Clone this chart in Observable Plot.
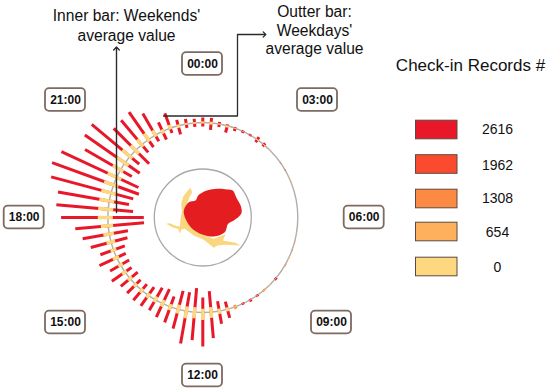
<!DOCTYPE html>
<html>
<head>
<meta charset="utf-8">
<script src="https://cdn.jsdelivr.net/npm/d3@7"></script>
<script src="https://cdn.jsdelivr.net/npm/@observablehq/plot@0.6"></script>
<style>
html,body{margin:0;padding:0;background:#fff}
svg{display:block}
</style>
</head>
<body>
<div id="chart"></div>
<script>
// 72 bins (20 minutes each), clockwise from 00:00. Values in check-in records.
const weekdays = [200,200,80,60,40,40,40,120,80,20,0,12,24,24,12,0,0,0,0,12,12,24,32,32,40,20,60,28,40,48,80,48,80,360,520,1040,1360,1120,1320,800,664,600,480,520,520,480,480,640,480,760,560,840,1080,1320,1868,2080,2080,2480,2616,2440,1640,1960,2000,1240,1280,1344,1000,400,640,240,200,160];
const weekends = [160,280,120,280,120,60,40,120,80,0,0,0,0,0,0,0,0,0,0,0,0,0,0,0,0,0,40,0,40,40,40,40,80,320,400,840,600,960,760,760,440,640,560,400,320,280,400,320,400,400,480,680,760,1440,1440,1000,800,920,1080,960,520,720,480,760,400,360,280,360,200,360,160,160];
const binLevels = [2616,2616,2616,2616,2616,2616,2616,2616,2616,654,654,1962,1962,654,654,654,654,654,654,1308,654,1308,1308,654,1308,1308,2616,654,1308,2616,2616,2616,1308,2616,2616,2616,2616,2616,2616,2616,2616,2616,2616,2616,2616,2616,2616,2616,2616,2616,2616,2616,2616,2616,2616,2616,2616,2616,2616,2616,2616,2616,2616,2616,2616,2616,2616,2616,2616,2616,2616,2616];

const legendLevels = [2616,1962,1308,654,0];
const legendColors = ["#e8182a","#fc4a2e","#fd8a42","#ffb05c","#fdd87e"];
const timeLabels = ["00:00","03:00","06:00","09:00","12:00","15:00","18:00","21:00"];

// Layout (page pixels)
const cx = 202.3, cy = 217, ringR = 95, innerR = 48.5;
const timeBoxX = [202,317,363.7,331,202,65,23.7,65];
const timeBoxY = [63.5,99.5,217,322,375,322,217,99.5];
const legendBoxY = [129.5,164,198.5,231.5,266.5];
const legendTextY = [129,165,198,232,267];

// Centre shapes
const redShapeX = [188.3,195,197.7,204.3,216.7,226.7,232.3,235.7,240.7,240.7,233.3,227.7,224.3,213.3,201.7,191.7,185,183.3];
const redShapeY = [201.7,200,195,190.7,188.3,189,190,196.7,206.7,213.3,220,223.3,231.7,236,234,228.3,218.3,210];
const sandShapeX = [190,191.7,188.7,186.7,183.3,185,191.7,201.7,213.3,221.7,225,222.3,235,240,225,216.7,213.3,203.3,193.3,184.3,180.7,180,177.3,171.7,165.7,169,176,179.5,180,181.5,180.7,182.7,186.7];
const sandShapeY = [187.3,191.7,197.3,202.7,210,218.3,228.3,234,238.3,235,234,240,242.3,245,244.3,245,247.3,239.3,235,228.3,229,233.3,228.3,226.7,223.3,222.7,225.5,226,218,211,203.3,196,190.7];

const barPx = d3.scaleLinear([0,2616],[0,65.4]);
const bins = d3.range(72).map(i => ({
  a: i * 5 * Math.PI / 180,
  out: barPx(weekdays[i]),
  inn: barPx(weekends[i]),
  level: binLevels[i]
}));
const px = (r, a) => cx + r * Math.sin(a);
const py = (r, a) => cy - r * Math.cos(a);
const coreOut = d => Math.min(10, d.out * 0.22);
const coreIn = d => Math.min(5, d.inn * 0.25);

const timeBoxes = timeLabels.map((t,i)=>({t,x:timeBoxX[i],y:timeBoxY[i]}));
const legend = legendLevels.map((v,i)=>({v,y:legendBoxY[i],ty:legendTextY[i]}));
const redShape = redShapeX.map((x,i)=>({x,y:redShapeY[i]}));
const sandShape = sandShapeX.map((x,i)=>({x,y:sandShapeY[i]}));

const dark = "#2b2b2b";
const chart = Plot.plot({
  width:550, height:392, margin:0,
  x:{domain:[0,550],range:[0,550],axis:null},
  y:{domain:[0,392],range:[0,392],axis:null},
  color:{type:"ordinal",domain:legendLevels,range:legendColors},
  style:{fontFamily:"'Liberation Sans',Helvetica,Arial,sans-serif",background:"#fff",color:"#111"},
  marks:[
    // guide circles
    Plot.dot([{}],{x:()=>cx,y:()=>cy,r:ringR,stroke:"#b0aeae",strokeWidth:1.4,fill:"none"}),
    Plot.dot([{}],{x:()=>cx,y:()=>cy,r:innerR,stroke:"#aaa8a8",strokeWidth:1.3,fill:"none"}),
    // centre shapes
    Plot.line(sandShape,{x:"x",y:"y",fill:"#f9d77f",stroke:"none",curve:"linear-closed"}),
    Plot.line(redShape,{x:"x",y:"y",fill:"#e41d20",stroke:"none",curve:"catmull-rom-closed"}),
    // radial bars
    Plot.link(bins,{
      x1:d=>px(ringR-d.inn,d.a), y1:d=>py(ringR-d.inn,d.a),
      x2:d=>px(ringR+d.out,d.a), y2:d=>py(ringR+d.out,d.a),
      stroke:"level", strokeWidth:3
    }),
    // pale core of each bar
    Plot.link(bins,{
      x1:d=>px(ringR-coreIn(d),d.a), y1:d=>py(ringR-coreIn(d),d.a),
      x2:d=>px(ringR+coreOut(d),d.a), y2:d=>py(ringR+coreOut(d),d.a),
      stroke:()=>0, strokeWidth:3.5
    }),
    // annotation arrows
    Plot.line([{x:116,y:212},{x:116,y:48}],{x:"x",y:"y",stroke:dark,strokeWidth:1.4,markerEnd:"arrow"}),
    Plot.line([{x:163,y:115.5},{x:237,y:115.5},{x:237,y:34},{x:264,y:34}],{x:"x",y:"y",stroke:dark,strokeWidth:1.3,markerEnd:"arrow"}),
    Plot.text(["Inner bar: Weekends'","average value"],{x:()=>126,y:(d,i)=>[15,35][i],text:d=>d,fontSize:15.6,fill:"#111"}),
    Plot.text(["Outter bar:","Weekdays'","average value"],{x:()=>314,y:(d,i)=>[11,30,48][i],text:d=>d,fontSize:15.6,fill:"#111"}),
    // time labels
    Plot.rect(timeBoxes,{x1:d=>d.x-20,x2:d=>d.x+20,y1:d=>d.y-11.3,y2:d=>d.y+11.3,rx:4,fill:"#fff",stroke:"#7d6a60",strokeWidth:1.8}),
    Plot.text(timeBoxes,{x:"x",y:"y",text:"t",fontSize:12,fontWeight:"bold",fill:"#111"}),
    // legend
    Plot.text(["Check-in Records #"],{x:()=>470,y:()=>65,text:d=>d,fontSize:17,fill:"#111"}),
    Plot.rect(legend,{x1:()=>415.5,x2:()=>457,y1:d=>d.y-9.3,y2:d=>d.y+9.3,fill:"v",stroke:"#5a4a42",strokeWidth:1}),
    Plot.text(legend,{x:()=>497,y:"ty",text:d=>String(d.v),fontSize:14,fill:"#111"})
  ]
});
document.getElementById("chart").appendChild(chart);
</script>
</body>
</html>
